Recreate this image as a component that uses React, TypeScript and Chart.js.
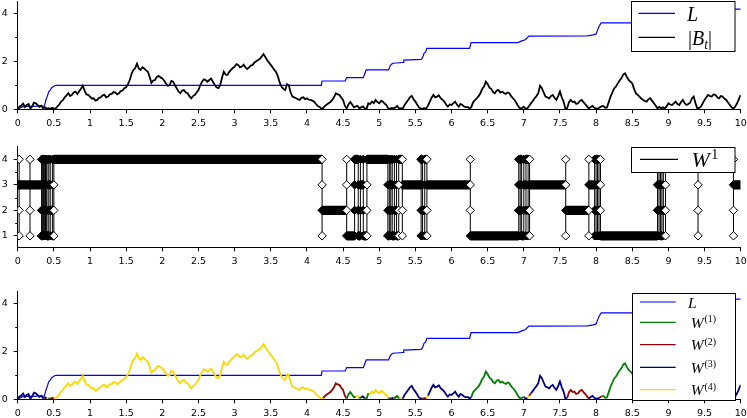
import React, { useEffect, useRef } from 'react';
import { Chart, registerables } from 'chart.js';

Chart.register(...registerables);

// ---------------- data ----------------
const bStep = 0.025;
// |B_t| sampled every 0.025 from t = 0 to t = 10
const bValues = [
  0, 0.12, 0.15, 0.24, 0.1, 0.18, 0.22, 0.03, 0.12, 0.28, 0.25, 0.18, 0.1, 0.15, 0.05, 0.08, 0.03, 0.05, 0.02, 0.06,
  0.04, 0.02, 0.12, 0.2, 0.32, 0.38, 0.5, 0.58, 0.67, 0.55, 0.6, 0.7, 0.74, 0.64, 0.75, 0.85, 0.98, 0.78, 0.62, 0.6,
  0.53, 0.45, 0.46, 0.36, 0.39, 0.48, 0.5, 0.58, 0.6, 0.5, 0.53, 0.62, 0.64, 0.72, 0.7, 0.62, 0.67, 0.76, 0.78, 0.88,
  0.92, 1.05, 1.22, 1.48, 1.64, 1.72, 1.9, 1.7, 1.64, 1.75, 1.7, 1.62, 1.57, 1.35, 1.1, 1.2, 1.22, 1.35, 1.39, 1.33,
  1.29, 1.2, 1.08, 0.98, 1.0, 1.18, 1.15, 1.0, 0.87, 0.74, 0.67, 0.78, 0.8, 0.7, 0.67, 0.55, 0.46, 0.55, 0.6, 0.7,
  0.8, 1.0, 1.15, 1.25, 1.22, 1.15, 1.22, 1.28, 1.15, 1.02, 0.92, 0.88, 1.0, 1.3, 1.57, 1.45, 1.43, 1.55, 1.64, 1.72,
  1.78, 1.88, 1.85, 1.75, 1.78, 1.86, 1.75, 1.68, 1.75, 1.82, 1.85, 1.95, 2.0, 2.05, 2.1, 2.2, 2.3, 2.18, 2.05, 1.95,
  1.85, 1.75, 1.64, 1.55, 1.36, 1.1, 0.94, 0.85, 0.8, 1.05, 1.0, 0.7, 0.53, 0.5, 0.46, 0.42, 0.39, 0.48, 0.5, 0.42,
  0.46, 0.4, 0.39, 0.36, 0.32, 0.22, 0.14, 0.1, 0.03, 0.05, 0.14, 0.2, 0.25, 0.3, 0.39, 0.5, 0.67, 0.62, 0.6, 0.48,
  0.39, 0.15, 0.03, 0.2, 0.3, 0.2, 0.08, 0.12, 0.14, 0.04, 0.08, 0.12, 0.04, 0.02, 0.25, 0.22, 0.32, 0.26, 0.39, 0.3,
  0.25, 0.35, 0.32, 0.24, 0.18, 0.04, 0.03, 0.06, 0.04, 0.08, 0.14, 0.03, 0.05, 0.03, 0.18, 0.28, 0.39, 0.5, 0.56, 0.42,
  0.32, 0.2, 0.08, 0.03, 0.03, 0.05, 0.03, 0.15, 0.32, 0.48, 0.6, 0.5, 0.53, 0.58, 0.46, 0.4, 0.32, 0.2, 0.11, 0.2,
  0.18, 0.25, 0.32, 0.2, 0.11, 0.22, 0.18, 0.12, 0.08, 0.1, 0.03, 0.1, 0.3, 0.38, 0.46, 0.55, 0.67, 0.85, 0.95, 1.15,
  1.05, 0.9, 0.85, 0.72, 0.67, 0.78, 0.8, 0.7, 0.74, 0.68, 0.64, 0.7, 0.67, 0.55, 0.46, 0.38, 0.25, 0.12, 0.03, 0.06,
  0.1, 0.03, 0.04, 0.15, 0.25, 0.35, 0.46, 0.55, 0.67, 0.98, 0.88, 0.7, 0.53, 0.5, 0.46, 0.55, 0.6, 0.48, 0.39, 0.55,
  0.74, 0.5, 0.32, 0.03, 0.05, 0.3, 0.39, 0.3, 0.32, 0.22, 0.25, 0.35, 0.39, 0.3, 0.22, 0.12, 0.03, 0.1, 0.14, 0.06,
  0.03, 0.03, 0.08, 0.12, 0.14, 0.06, 0.08, 0.3, 0.53, 0.7, 0.87, 0.95, 1.08, 1.2, 1.29, 1.45, 1.5, 1.35, 1.22, 1.15,
  1.08, 0.85, 0.67, 0.6, 0.53, 0.45, 0.39, 0.35, 0.32, 0.42, 0.46, 0.35, 0.25, 0.15, 0.04, 0.1, 0.04, 0.08, 0.03, 0.12,
  0.25, 0.2, 0.18, 0.25, 0.32, 0.22, 0.18, 0.3, 0.39, 0.25, 0.18, 0.22, 0.28, 0.45, 0.53, 0.25, 0.03, 0.06, 0.11, 0.25,
  0.39, 0.5, 0.6, 0.55, 0.53, 0.62, 0.6, 0.5, 0.46, 0.55, 0.53, 0.45, 0.39, 0.28, 0.18, 0.08, 0.03, 0.12, 0.25, 0.42, 0.6,
];
const bTimes = bValues.map((_, i) => Math.round(i * bStep * 1000) / 1000);

// local time L (non-decreasing)
const lTimes = [0, 0.03, 0.06, 0.12, 0.2, 0.28, 0.37, 0.39, 0.41, 0.43, 0.45, 0.47, 0.49, 0.51, 0.53, 4.2, 4.21, 4.53, 4.55, 4.78,
  4.82, 5.13, 5.15, 5.17, 5.19, 5.33, 5.34, 5.58, 5.6, 5.62, 5.64, 5.66, 6.25, 6.27, 6.92, 6.98, 7.02, 7.07, 7.88, 7.96,
  8.0, 8.02, 8.04, 8.07, 8.85, 8.9, 9.41, 9.42, 9.89, 9.9, 10];
const lValues = [0, 0.06, 0.1, 0.12, 0.12, 0.13, 0.14, 0.38, 0.55, 0.74, 0.8, 0.9, 0.94, 0.98, 1.0, 1.0, 1.18, 1.18, 1.32, 1.32,
  1.64, 1.64, 1.8, 1.88, 1.92, 1.95, 2.05, 2.08, 2.15, 2.33, 2.38, 2.54, 2.54, 2.78, 2.78, 2.86, 2.9, 3.05, 3.06, 3.1,
  3.14, 3.3, 3.45, 3.6, 3.6, 3.85, 3.9, 4.0, 4.0, 4.17, 4.17];

// W^1 : edge index, piecewise constant; segment i starts at w1Starts[i]
const w1Starts = [0, 0.02, 0.17, 0.33, 0.345, 0.355, 0.365, 0.375, 0.385, 0.395, 0.405, 0.43, 0.45, 0.48, 0.5, 4.21, 4.55, 4.66, 4.71, 4.74,
  4.78, 4.83, 5.12, 5.14, 5.16, 5.18, 5.21, 5.24, 5.27, 5.32, 5.58, 5.6, 5.63, 5.66, 6.26, 6.93, 6.95, 6.97, 7.0, 7.03,
  7.06, 7.08, 7.58, 7.9, 7.98, 8.0, 8.02, 8.04, 8.06, 8.85, 8.87, 8.89, 8.91, 8.93, 8.96, 9.41, 9.9];
const w1Levels = [3, 3, 3, 1, 2, 4, 1, 3, 2, 4, 1, 3, 2, 1, 4, 2, 1, 4, 1, 3,
  1, 4, 1, 2, 3, 1, 2, 1, 4, 3, 4, 2, 4, 3, 1, 2, 4, 1, 3, 4,
  2, 3, 2, 3, 2, 4, 3, 2, 1, 2, 3, 1, 4, 2, 4, 4, 3];

const edgeLevels = [1, 2, 3, 4];
const xTickValues = [0, 0.5, 1, 1.5, 2, 2.5, 3, 3.5, 4, 4.5, 5, 5.5, 6, 6.5, 7, 7.5, 8, 8.5, 9, 9.5, 10];
const yTicksTop = [0, 2, 4];
const yMinorTop = [1, 3];
const yTicksMid = [1, 2, 3, 4];
const yMinorMid = [1.5, 2.5, 3.5];

const labelL = 'L';
const labelB = '|B_t|';
const labelW1 = 'W^1';
const labelsW = ['W^(1)', 'W^(2)', 'W^(3)', 'W^(4)'];

// ---------------- styles ----------------
const BLUE = '#0000ff';
const BLACK = '#000000';
const EDGE_COLORS = ['#008000', '#990000', '#000080', '#ffd700'];
const TICK_FONT = { family: '"DejaVu Sans", sans-serif', size: 9.5 };
const MATH_FONT = '"Liberation Serif", "DejaVu Serif", serif';

// ---------------- plugins ----------------
const minorTicks = {
  id: 'minorTicks',
  afterDraw(chart: any, _a: any, o: any) {
    const vals: number[] = o && o.values;
    if (!vals) return;
    const ys = chart.scales.y;
    const left = chart.chartArea.left;
    const ctx = chart.ctx;
    ctx.save();
    ctx.strokeStyle = '#000';
    ctx.lineWidth = 1;
    vals.forEach((v) => {
      const py = Math.round(ys.getPixelForValue(v)) + 0.5;
      ctx.beginPath();
      ctx.moveTo(left - 2.5, py);
      ctx.lineTo(left, py);
      ctx.stroke();
    });
    ctx.restore();
  },
};

type Part = { t: string; s: 'i' | 'n' | 'sub' | 'sup' };
function parseLabel(label: string): Part[] {
  // tiny parser: '|' upright, letters italic, '_x' subscript, '^x' superscript
  const parts: Part[] = [];
  let i = 0;
  while (i < label.length) {
    const c = label[i];
    if (c === '_' || c === '^') {
      const rest = label.slice(i + 1);
      let tok = rest[0];
      if (rest[0] === '(') tok = rest.slice(0, rest.indexOf(')') + 1);
      parts.push({ t: tok, s: c === '_' ? 'sub' : 'sup' });
      i += 1 + tok.length;
    } else if (c === '|') {
      parts.push({ t: c, s: 'n' });
      i++;
    } else {
      parts.push({ t: c, s: 'i' });
      i++;
    }
  }
  return parts;
}

const boxLegend = {
  id: 'boxLegend',
  afterDraw(chart: any, _a: any, o: any) {
    if (!o || !o.entries) return;
    const ctx = chart.ctx;
    ctx.save();
    ctx.fillStyle = '#fff';
    ctx.fillRect(o.x, o.y, o.w, o.h);
    ctx.strokeStyle = '#000';
    ctx.lineWidth = 1;
    ctx.strokeRect(o.x, o.y, o.w, o.h);
    o.entries.forEach((e: any) => {
      ctx.strokeStyle = e.color;
      ctx.lineWidth = 1.2;
      ctx.beginPath();
      ctx.moveTo(o.lineX0, e.y);
      ctx.lineTo(o.lineX1, e.y);
      ctx.stroke();
      const size = o.fontSize;
      const base = e.y + size * 0.37;
      let cx = e.textX;
      ctx.fillStyle = '#000';
      ctx.textBaseline = 'alphabetic';
      ctx.textAlign = 'left';
      parseLabel(e.label).forEach((p) => {
        let fs = size;
        let dy = 0;
        let style = 'italic';
        if (p.s === 'n') style = 'normal';
        if (p.s === 'sub') { fs = size * 0.68; dy = size * 0.2; }
        if (p.s === 'sup') { fs = size * 0.64; dy = -size * 0.38; style = 'normal'; cx += size * 0.06; }
        ctx.font = `${style} ${fs}px ${MATH_FONT}`;
        ctx.fillText(p.t, cx, base + dy);
        cx += ctx.measureText(p.t).width;
      });
    });
    ctx.restore();
  },
};

// ---------------- helpers ----------------
function levelAt(t: number): number {
  let k = w1Levels[0];
  for (let i = 0; i < w1Starts.length; i++) {
    if (w1Starts[i] <= t + 1e-9) k = w1Levels[i];
    else break;
  }
  return k;
}

function baseOptions(yMin: number, yMax: number, yTicks: number[], padTop: number, xHeight: number, minor: number[], legend: any) {
  return {
    responsive: false,
    animation: false,
    devicePixelRatio: 1,
    events: [],
    layout: { padding: { left: 0, right: 6.3, top: padTop, bottom: 0 } },
    plugins: {
      legend: { display: false },
      tooltip: { enabled: false },
      minorTicks: { values: minor },
      boxLegend: legend,
    },
    scales: {
      x: {
        type: 'linear',
        min: 0,
        max: 10,
        afterBuildTicks: (axis: any) => { axis.ticks = xTickValues.map((v) => ({ value: v })); },
        afterFit: (axis: any) => {
          axis.height = xHeight;
          axis.paddingLeft = 0;
          axis.paddingRight = 0;
        },
        ticks: {
          autoSkip: false,
          maxRotation: 0,
          minRotation: 0,
          color: '#000',
          font: TICK_FONT,
          padding: 5,
          callback: (v: any) => String(v),
        },
        grid: { drawOnChartArea: false, drawTicks: true, tickLength: 4, color: '#000', tickColor: '#000' },
        border: { display: true, color: '#000', width: 1 },
      },
      y: {
        type: 'linear',
        min: yMin,
        max: yMax,
        afterBuildTicks: (axis: any) => { axis.ticks = yTicks.map((v) => ({ value: v })); },
        afterFit: (axis: any) => {
          axis.width = 17.7;
          axis.paddingTop = 0;
          axis.paddingBottom = 0;
        },
        ticks: {
          color: '#000',
          font: TICK_FONT,
          padding: 6,
          callback: (v: any) => String(v),
        },
        grid: { drawOnChartArea: false, drawTicks: true, tickLength: 4, color: '#000', tickColor: '#000' },
        border: { display: true, color: '#000', width: 1 },
      },
    },
  };
}

const lineDs = (data: any[], color: string, width: number, order: number) => ({
  type: 'line',
  data,
  borderColor: color,
  backgroundColor: color,
  borderWidth: width,
  pointRadius: 0,
  tension: 0,
  spanGaps: false,
  order,
});

export default function App() {
  const c1 = useRef<HTMLCanvasElement>(null);
  const c2 = useRef<HTMLCanvasElement>(null);
  const c3 = useRef<HTMLCanvasElement>(null);

  useEffect(() => {
    const lData = lTimes.map((t, i) => ({ x: t, y: lValues[i] }));
    const bData = bTimes.map((t, i) => ({ x: t, y: bValues[i] }));

    // ---------- panel 1 ----------
    const ch1 = new Chart(c1.current as HTMLCanvasElement, {
      type: 'line',
      data: {
        datasets: [
          lineDs(bData, BLACK, 1.8, 0),
          lineDs(lData, BLUE, 1.2, 1),
        ] as any,
      },
      options: baseOptions(0, 4.5, yTicksTop, 1.3, 22.7, yMinorTop, {
        x: 631.5, y: 1.5, w: 103.5, h: 50,
        lineX0: 638.5, lineX1: 675, fontSize: 20,
        entries: [
          { label: labelL, color: BLUE, y: 13.3, textX: 687 },
          { label: labelB, color: BLACK, y: 37.3, textX: 688 },
        ],
      }) as any,
      plugins: [minorTicks, boxLegend],
    });

    // ---------- panel 2 ----------
    const segs = w1Starts.map((s, i) => ({
      start: s,
      end: i + 1 < w1Starts.length ? w1Starts[i + 1] : 10,
      level: w1Levels[i],
    }));
    const vertData: any[] = [];
    const whitePts: any[] = [];
    const blackPts: any[] = [];
    segs.forEach((sg, i) => {
      if (i === 0) return;
      vertData.push({ x: sg.start, y: 1 }, { x: sg.start, y: 4 }, { x: sg.start, y: null });
      const dense = sg.end - sg.start < 0.05 && i + 1 < segs.length;
      edgeLevels.forEach((lv) => {
        if (dense) blackPts.push({ x: sg.start, y: lv });
        else if (lv !== sg.level) whitePts.push({ x: sg.start, y: lv });
      });
    });
    const bandData: any[] = [];
    segs.forEach((sg) => {
      bandData.push({ x: sg.start, y: sg.level }, { x: sg.end, y: sg.level }, { x: sg.end, y: null });
    });
    const bandStarts = segs.map((sg) => ({ x: sg.start, y: sg.level }));
    const diamond = (data: any[], fill: string, order: number) => ({
      type: 'line',
      data,
      showLine: false,
      pointStyle: 'rectRot',
      pointRadius: 4.2,
      pointBorderWidth: 1,
      pointBackgroundColor: fill,
      pointBorderColor: BLACK,
      order,
    });
    const ch2 = new Chart(c2.current as HTMLCanvasElement, {
      type: 'line',
      data: {
        datasets: [
          diamond(whitePts, '#ffffff', 0),
          diamond(blackPts, BLACK, 1),
          diamond(bandStarts, BLACK, 2),
          { ...lineDs(bandData, BLACK, 9.4, 3), borderCapStyle: 'butt' },
          lineDs(vertData, BLACK, 1, 4),
        ] as any,
      },
      options: baseOptions(0.55, 4.5, yTicksMid, 14.6, 22.7, yMinorMid, {
        x: 631.5, y: 15.5, w: 103.5, h: 25,
        lineX0: 640, lineX1: 678, fontSize: 22,
        entries: [{ label: labelW1, color: BLACK, y: 27.3, textX: 691.5 }],
      }) as any,
      plugins: [minorTicks, boxLegend],
    });

    // ---------- panel 3 ----------
    const edgeSets = edgeLevels.map((lv, k) => {
      const data = bTimes.map((t, i) => {
        const inK = levelAt(t) === lv || (i > 0 && levelAt(bTimes[i - 1]) === lv);
        return { x: t, y: inK ? bValues[i] : null };
      });
      return lineDs(data, EDGE_COLORS[k], 1.8, k);
    });
    const ch3 = new Chart(c3.current as HTMLCanvasElement, {
      type: 'line',
      data: {
        datasets: [...edgeSets, lineDs(lData, BLUE, 1.2, 5)] as any,
      },
      options: baseOptions(0, 4.5, yTicksTop, 21.3, 18.7, yMinorTop, {
        x: 632.5, y: 23.5, w: 103, h: 107,
        lineX0: 640, lineX1: 675.7, fontSize: 15.5,
        entries: [
          { label: labelL, color: BLUE, y: 32, textX: 688 },
          { label: labelsW[0], color: EDGE_COLORS[0], y: 52.3, textX: 690.7 },
          { label: labelsW[1], color: EDGE_COLORS[1], y: 74.7, textX: 690.7 },
          { label: labelsW[2], color: EDGE_COLORS[2], y: 97.3, textX: 690.7 },
          { label: labelsW[3], color: EDGE_COLORS[3], y: 119.7, textX: 690.7 },
        ],
      }) as any,
      plugins: [minorTicks, boxLegend],
    });

    return () => {
      ch1.destroy();
      ch2.destroy();
      ch3.destroy();
    };
  }, []);

  const cs = (top: number, h: number): React.CSSProperties => ({
    position: 'absolute', left: 0, top, width: 747, height: h, display: 'block',
  });

  return (
    <div style={{ position: 'absolute', left: 0, top: 0, width: 747, height: 418, background: '#fff', overflow: 'hidden' }}>
      <canvas ref={c1} width={747} height={132} style={cs(0, 132)} />
      <canvas ref={c2} width={747} height={138} style={cs(132, 138)} />
      <canvas ref={c3} width={747} height={148} style={cs(270, 148)} />
    </div>
  );
}
